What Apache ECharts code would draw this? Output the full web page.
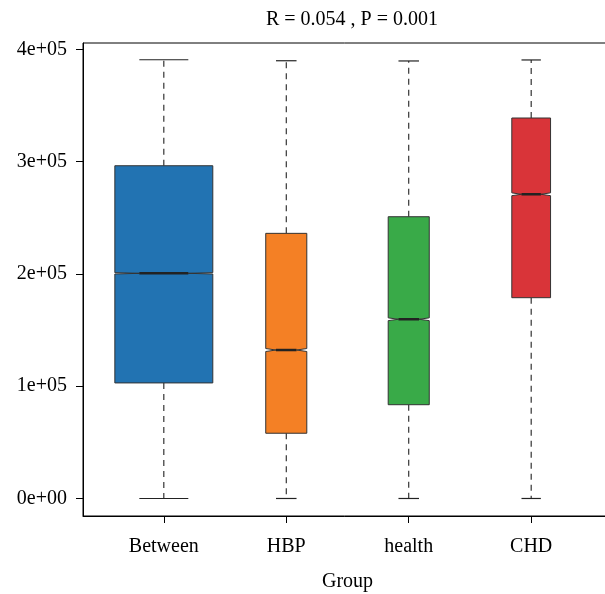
<!DOCTYPE html>
<html lang="en">
<head>
    <meta charset="UTF-8">
    <title>ANOSIM boxplot</title>
    <script src="https://cdn.jsdelivr.net/npm/echarts@6/dist/echarts.min.js"></script>
</head>
<body style="margin:0">
    <div id="main" style="width:605px;height:594px;"></div>
    <script type="text/javascript">
        // values (rank of distances)
        const groups = ['Between', 'HBP', 'health', 'CHD'];
        const lowWhisker = [0, 0, 0, 0];
        const q1 = [102900, 58100, 83500, 178800];
        const median = [200500, 132200, 159600, 270900];
        const q3 = [296300, 236100, 250900, 338800];
        const highWhisker = [390700, 389800, 389600, 390500];
        // approx. number of distances per group (varwidth + notch)
        const groupN = [262000, 46000, 46000, 41000];
        const yTicks = [0, 100000, 200000, 300000, 400000];
        const colors = ['#2273b2', '#f48025', '#39aa48', '#d93439'];

        const font = 'Liberation Serif';
        const maxN = Math.max(...groupN);

        function sci(v) {
            if (v === 0) return '0e+00';
            const e = Math.floor(Math.log10(Math.abs(v)));
            const m = Math.round(v / Math.pow(10, e));
            return m + 'e+' + String(e).padStart(2, '0');
        }

        function renderBox(params, api) {
            const x = api.value(0);
            const lo = api.value(1), a = api.value(2), med = api.value(3), b = api.value(4), hi = api.value(5);
            const n = api.value(6);
            const unit = api.size([1, 0])[0];
            const hw = 0.4 * Math.sqrt(n / maxN) * unit;
            const notch = 1.58 * (b - a) / Math.sqrt(n);
            const xc = api.coord([x, 0])[0];
            const y = v => api.coord([x, v])[1];
            const xl = xc - hw, xr = xc + hw;
            const stroke = '#333';
            const col = colors[params.dataIndex];

            const dashed = { stroke: '#222', lineWidth: 1.1, lineDash: [6, 5] };
            const solid = { stroke: '#222', lineWidth: 1.2 };

            return {
                type: 'group',
                children: [
                    { type: 'line', shape: { x1: xc, y1: y(b), x2: xc, y2: y(hi) }, style: dashed },
                    { type: 'line', shape: { x1: xc, y1: y(a), x2: xc, y2: y(lo) }, style: dashed },
                    { type: 'line', shape: { x1: xc - hw / 2, y1: y(hi), x2: xc + hw / 2, y2: y(hi) }, style: solid },
                    { type: 'line', shape: { x1: xc - hw / 2, y1: y(lo), x2: xc + hw / 2, y2: y(lo) }, style: solid },
                    {
                        type: 'polygon',
                        shape: {
                            points: [
                                [xl, y(a)], [xl, y(med - notch)], [xc - hw / 2, y(med)], [xl, y(med + notch)],
                                [xl, y(b)], [xr, y(b)], [xr, y(med + notch)], [xc + hw / 2, y(med)],
                                [xr, y(med - notch)], [xr, y(a)]
                            ]
                        },
                        style: { fill: col, stroke: stroke, lineWidth: 1 }
                    },
                    { type: 'line', shape: { x1: xc - hw / 2, y1: y(med), x2: xc + hw / 2, y2: y(med) }, style: { stroke: '#222', lineWidth: 2.5 } }
                ]
            };
        }

        const boxData = groups.map((g, i) => [i + 1, lowWhisker[i], q1[i], median[i], q3[i], highWhisker[i], groupN[i]]);

        let myChart = echarts.init(document.getElementById('main'));

        let options = {
            animation: false,
            title: {
                text: 'R = 0.054 , P = 0.001',
                left: 347,
                top: 5,
                textAlign: 'center',
                textStyle: { fontFamily: font, fontSize: 20, fontWeight: 'normal', color: '#000' }
            },
            grid: {
                left: 83, top: 43, width: 529, height: 473,
                outerBoundsMode: 'none',
                containLabel: false,
                show: true, borderColor: '#000', borderWidth: 1, backgroundColor: 'transparent'
            },
            xAxis: {
                type: 'value',
                min: 0.34,
                max: 4.66,
                name: 'Group',
                nameLocation: 'middle',
                nameGap: 56,
                nameTextStyle: { fontFamily: font, fontSize: 20, color: '#000' },
                axisLine: { onZero: false, lineStyle: { color: '#000', width: 1 } },
                axisTick: { customValues: [1, 2, 3, 4], length: 7, lineStyle: { color: '#000' } },
                axisLabel: {
                    customValues: [1, 2, 3, 4],
                    formatter: v => groups[Math.round(v) - 1],
                    margin: 21,
                    fontFamily: font, fontSize: 20, color: '#000'
                },
                splitLine: { show: false }
            },
            yAxis: {
                type: 'value',
                min: -15600,
                max: 405600,
                axisLine: { show: true, onZero: false, lineStyle: { color: '#000', width: 1 } },
                axisTick: { show: true, customValues: yTicks, length: 7, lineStyle: { color: '#000' } },
                axisLabel: {
                    customValues: yTicks,
                    formatter: sci,
                    margin: 16,
                    fontFamily: font, fontSize: 20, color: '#000'
                },
                splitLine: { show: false }
            },
            series: [{
                type: 'custom',
                renderItem: renderBox,
                encode: { x: 0, y: [1, 2, 3, 4, 5] },
                data: boxData
            }]
        };

        myChart.setOption(options);
    </script>
</body>
</html>
